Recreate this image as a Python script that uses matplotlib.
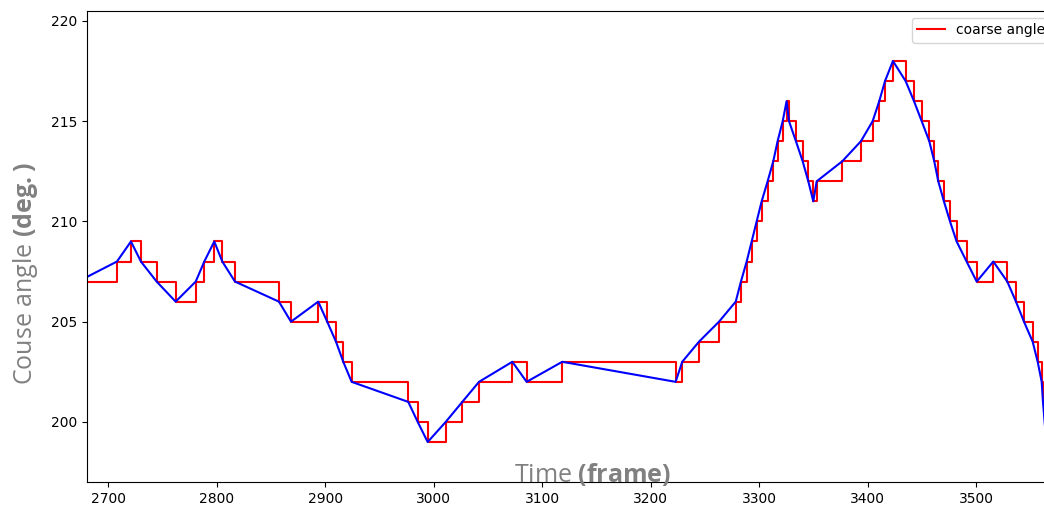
import matplotlib
matplotlib.use("Agg")
import matplotlib.pyplot as plt

# Frame indices where the coarse angle changes, and the new (integer) angle
frames = [2672, 2708.0, 2720.9, 2730.1, 2744.6, 2762.1, 2780.6, 2788.5, 2797.7,
          2805.1, 2816.8, 2857.3, 2868.4, 2893.5, 2901.8, 2909.9, 2916.6, 2924.3,
          2976.5, 2985.2, 2994.4, 3011.0, 3026.3, 3041.7, 3072.4, 3085.6, 3118.4,
          3222.9, 3229.0, 3244.4, 3262.9, 3278.3, 3283.1, 3288.4, 3293.0, 3297.6,
          3302.2, 3307.7, 3312.9, 3316.9, 3321.6, 3325.2, 3327.4, 3333.8, 3340.0,
          3345.2, 3349.8, 3352.9, 3376.5, 3393.7, 3404.5, 3410.6, 3415.9, 3423.2,
          3434.9, 3442.6, 3449.7, 3456.7, 3461.3, 3465.0, 3470.2, 3475.8, 3481.9,
          3491.1, 3500.4, 3515.7, 3528.6, 3536.6, 3544.0, 3552.0, 3556.6, 3560.3,
          3561.5, 3563.0, 3564.5, 3566.0, 3568.0]
angles = [207, 208, 209, 208, 207, 206, 207, 208, 209,
          208, 207, 206, 205, 206, 205, 204, 203, 202,
          201, 200, 199, 200, 201, 202, 203, 202, 203,
          202, 203, 204, 205, 206, 207, 208, 209, 210,
          211, 212, 213, 214, 215, 216, 215, 214, 213,
          212, 211, 212, 213, 214, 215, 216, 217, 218,
          217, 216, 215, 214, 213, 212, 211, 210, 209,
          208, 207, 208, 207, 206, 205, 204, 203, 202,
          201, 200, 199, 198, 197]

xticks = [2700, 2800, 2900, 3000, 3100, 3200, 3300, 3400, 3500]
yticks = [200, 205, 210, 215, 220]

plt.rcParams['mathtext.fontset'] = 'custom'
plt.rcParams['mathtext.rm'] = 'Open Sans'
plt.rcParams['mathtext.bf'] = 'Open Sans:bold'

W, H = 1044, 508
fig = plt.figure(figsize=(W / 100, H / 100), dpi=100)
left, right, top, bottom = 87, 1058, 10.7, 482.3
ax = fig.add_axes([left / W, 1 - bottom / H, (right - left) / W, (bottom - top) / H])

ax.step(frames, angles, where='post', color='red', lw=1.5, label='coarse angle')
ax.plot(frames, angles, color='blue', lw=1.5)

ax.set_xlim(2680.4, 2680.4 + (right - left) / 1.085)
ax.set_ylim(196.99, 220.51)
ax.set_xticks(xticks)
ax.set_yticks(yticks)
ax.tick_params(labelsize=10)
ax.legend(loc='upper right', fontsize=10)

fig.text(593 / W, 1 - 482 / H, r"Time $\mathbf{(frame)}$", fontsize=18,
         family='Open Sans', color='gray', ha='center', va='baseline')
fig.text(25.5 / W, 1 - 274 / H, r"Couse angle $\mathbf{(deg.)}$", fontsize=18,
         family='Open Sans', color='gray', ha='center', va='center', rotation=90)

fig.savefig('out.png', dpi=100)
